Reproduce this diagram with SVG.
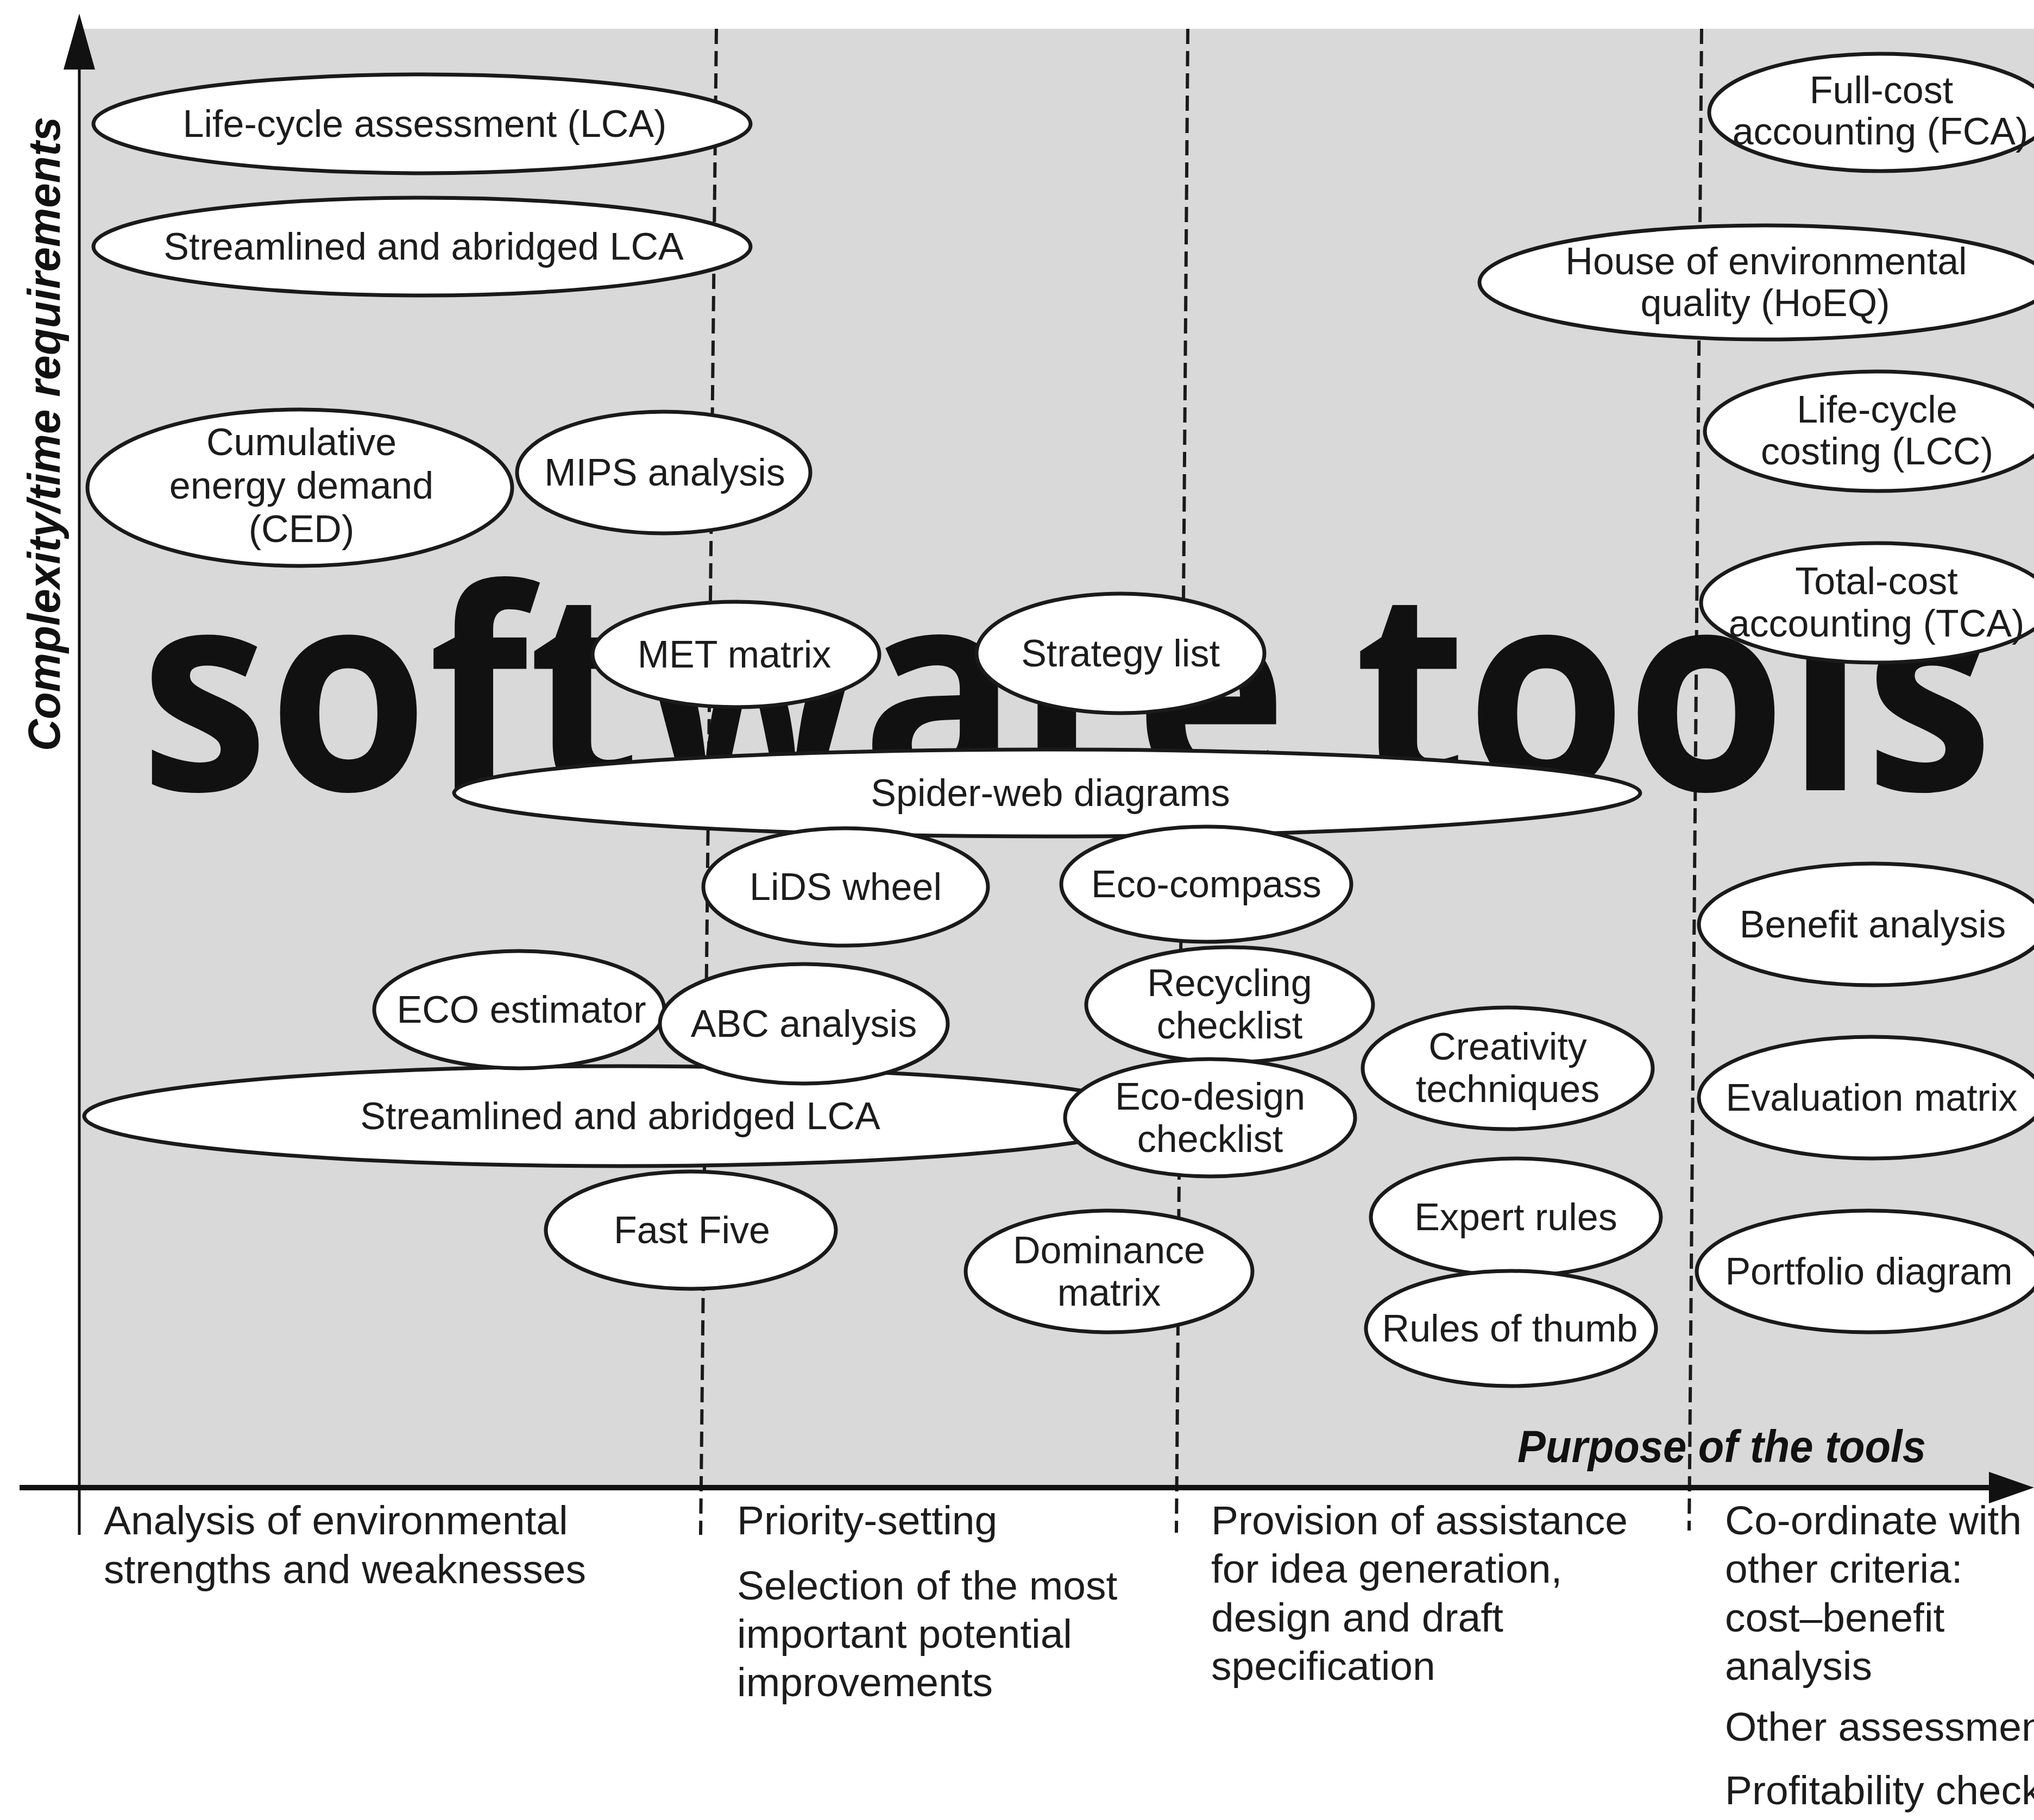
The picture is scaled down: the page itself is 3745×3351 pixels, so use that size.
<svg xmlns="http://www.w3.org/2000/svg" width="3745" height="3351" viewBox="0 0 3745 3351">
  <style>
    .node ellipse { fill: #ffffff; stroke: #1a1a1a; stroke-width: 7; }
    .node text, .cap { font-family: "Liberation Sans", Arial, sans-serif; font-size: 70px; fill: #1c1c1c; }
    .node text { text-anchor: middle; }
    .cap { font-size: 75px; }
    .axis-title { font-family: "Liberation Sans", Arial, sans-serif; font-weight: bold; font-style: italic; font-size: 84px; fill: #111111; }
    .divider { stroke: #1a1a1a; stroke-width: 6; stroke-dasharray: 28 13; fill: none; }
    .axis { stroke: #111111; fill: none; }
    .head { fill: #111111; }
  </style>

  <!-- page and shaded plotting field -->
  <rect x="0" y="0" width="3745" height="3351" fill="#ffffff"/>
  <rect x="146" y="53" width="3599" height="2686" fill="#d9d9d9"/>

  <!-- column dividers -->
  <g id="dividers">
    <line class="divider" x1="1319" y1="53" x2="1290" y2="2826"/>
    <line class="divider" x1="2187" y1="53" x2="2166" y2="2822"/>
    <line class="divider" x1="3133" y1="53" x2="3110" y2="2818"/>
  </g>

  <!-- large background lettering -->
  <text x="258" y="1455" textLength="3412" lengthAdjust="spacingAndGlyphs" font-family="'Open Sans', 'Liberation Sans', Arial, sans-serif" font-weight="bold" font-size="515" fill="#111111">software tools</text>

  <!-- axes -->
  <g id="connectors">
    <line class="axis" x1="146" y1="120" x2="146" y2="2826" stroke-width="5"/>
    <polygon class="head" points="146,25 117,128 175,128"/>
    <line class="axis" x1="36" y1="2739" x2="3670" y2="2739" stroke-width="10"/>
    <polygon class="head" points="3745,2739 3662,2710 3662,2768"/>
  </g>

  <!-- axis titles -->
  <text class="axis-title" transform="translate(110,1383) rotate(-90)" x="0" y="0" textLength="1168" lengthAdjust="spacingAndGlyphs">Complexity/time requirements</text>
  <text class="axis-title" x="2794" y="2692" textLength="752" lengthAdjust="spacingAndGlyphs">Purpose of the tools</text>

  <!-- tool ellipses -->
  <g id="n-streamlined-low" class="node"><ellipse cx="1142" cy="2055" rx="987" ry="92"/><text x="1142" y="2079">Streamlined and abridged LCA</text></g>
  <g id="n-spider" class="node"><ellipse cx="1928" cy="1460" rx="1092" ry="80"/><text x="1934" y="1484">Spider-web diagrams</text></g>

  <g id="n-lca" class="node"><ellipse cx="777" cy="228" rx="605" ry="91"/><text x="782" y="252">Life-cycle assessment (LCA)</text></g>
  <g id="n-streamlined-high" class="node"><ellipse cx="777" cy="454" rx="605" ry="90"/><text x="780" y="478">Streamlined and abridged LCA</text></g>
  <g id="n-ced" class="node"><ellipse cx="552" cy="898" rx="391" ry="144"/><text x="555" y="838">Cumulative</text><text x="555" y="918">energy demand</text><text x="555" y="998">(CED)</text></g>
  <g id="n-mips" class="node"><ellipse cx="1222" cy="870" rx="270" ry="112"/><text x="1224" y="894">MIPS analysis</text></g>

  <g id="n-fca" class="node"><ellipse cx="3462" cy="207" rx="315" ry="108"/><text x="3464" y="190">Full-cost</text><text x="3462" y="266">accounting (FCA)</text></g>
  <g id="n-hoeq" class="node"><ellipse cx="3250" cy="520" rx="526" ry="105"/><text x="3252" y="505">House of environmental</text><text x="3250" y="582">quality (HoEQ)</text></g>
  <g id="n-lcc" class="node"><ellipse cx="3456" cy="794" rx="317" ry="110"/><text x="3456" y="778">Life-cycle</text><text x="3456" y="855">costing (LCC)</text></g>
  <g id="n-tca" class="node"><ellipse cx="3455" cy="1110" rx="323" ry="110"/><text x="3455" y="1094">Total-cost</text><text x="3455" y="1172">accounting (TCA)</text></g>

  <g id="n-met" class="node"><ellipse cx="1355" cy="1205" rx="264" ry="97"/><text x="1352" y="1229">MET matrix</text></g>
  <g id="n-strategy" class="node"><ellipse cx="2063" cy="1203" rx="265" ry="110"/><text x="2063" y="1227">Strategy list</text></g>

  <g id="n-lids" class="node"><ellipse cx="1557" cy="1633" rx="262" ry="108"/><text x="1557" y="1657">LiDS wheel</text></g>
  <g id="n-ecocompass" class="node"><ellipse cx="2221" cy="1628" rx="267" ry="106"/><text x="2221" y="1652">Eco-compass</text></g>

  <g id="n-ecoestimator" class="node"><ellipse cx="956" cy="1859" rx="267" ry="108"/><text x="960" y="1883">ECO estimator</text></g>
  <g id="n-abc" class="node"><ellipse cx="1480" cy="1885" rx="265" ry="110"/><text x="1480" y="1909">ABC analysis</text></g>
  <g id="n-recycling" class="node"><ellipse cx="2264" cy="1850" rx="264" ry="106"/><text x="2264" y="1834">Recycling</text><text x="2264" y="1912">checklist</text></g>
  <g id="n-ecodesign" class="node"><ellipse cx="2228" cy="2058" rx="267" ry="108"/><text x="2228" y="2043">Eco-design</text><text x="2228" y="2121">checklist</text></g>

  <g id="n-fastfive" class="node"><ellipse cx="1272" cy="2265" rx="267" ry="108"/><text x="1274" y="2289">Fast Five</text></g>
  <g id="n-dominance" class="node"><ellipse cx="2042" cy="2341" rx="264" ry="112"/><text x="2042" y="2326">Dominance</text><text x="2042" y="2404">matrix</text></g>

  <g id="n-creativity" class="node"><ellipse cx="2776" cy="1967" rx="267" ry="112"/><text x="2776" y="1951">Creativity</text><text x="2776" y="2029">techniques</text></g>
  <g id="n-expert" class="node"><ellipse cx="2791" cy="2241" rx="267" ry="108"/><text x="2791" y="2265">Expert rules</text></g>
  <g id="n-thumb" class="node"><ellipse cx="2782" cy="2446" rx="267" ry="106"/><text x="2780" y="2470">Rules of thumb</text></g>

  <g id="n-benefit" class="node"><ellipse cx="3448" cy="1702" rx="320" ry="112"/><text x="3448" y="1726">Benefit analysis</text></g>
  <g id="n-evaluation" class="node"><ellipse cx="3446" cy="2021" rx="318" ry="112"/><text x="3446" y="2045">Evaluation matrix</text></g>
  <g id="n-portfolio" class="node"><ellipse cx="3441" cy="2341" rx="317" ry="112"/><text x="3441" y="2365">Portfolio diagram</text></g>

  <!-- purpose captions under the horizontal axis -->
  <g id="captions">
    <text class="cap" x="191" y="2825">Analysis of environmental</text>
    <text class="cap" x="191" y="2915">strengths and weaknesses</text>

    <text class="cap" x="1357" y="2825">Priority-setting</text>
    <text class="cap" x="1357" y="2945">Selection of the most</text>
    <text class="cap" x="1357" y="3034">important potential</text>
    <text class="cap" x="1357" y="3123">improvements</text>

    <text class="cap" x="2230" y="2825">Provision of assistance</text>
    <text class="cap" x="2230" y="2914">for idea generation,</text>
    <text class="cap" x="2230" y="3004">design and draft</text>
    <text class="cap" x="2230" y="3093">specification</text>

    <text class="cap" x="3176" y="2825">Co-ordinate with</text>
    <text class="cap" x="3176" y="2914">other criteria:</text>
    <text class="cap" x="3176" y="3004">cost–benefit</text>
    <text class="cap" x="3176" y="3093">analysis</text>
    <text class="cap" x="3176" y="3205">Other assessments</text>
    <text class="cap" x="3176" y="3322">Profitability check</text>
  </g>
</svg>
